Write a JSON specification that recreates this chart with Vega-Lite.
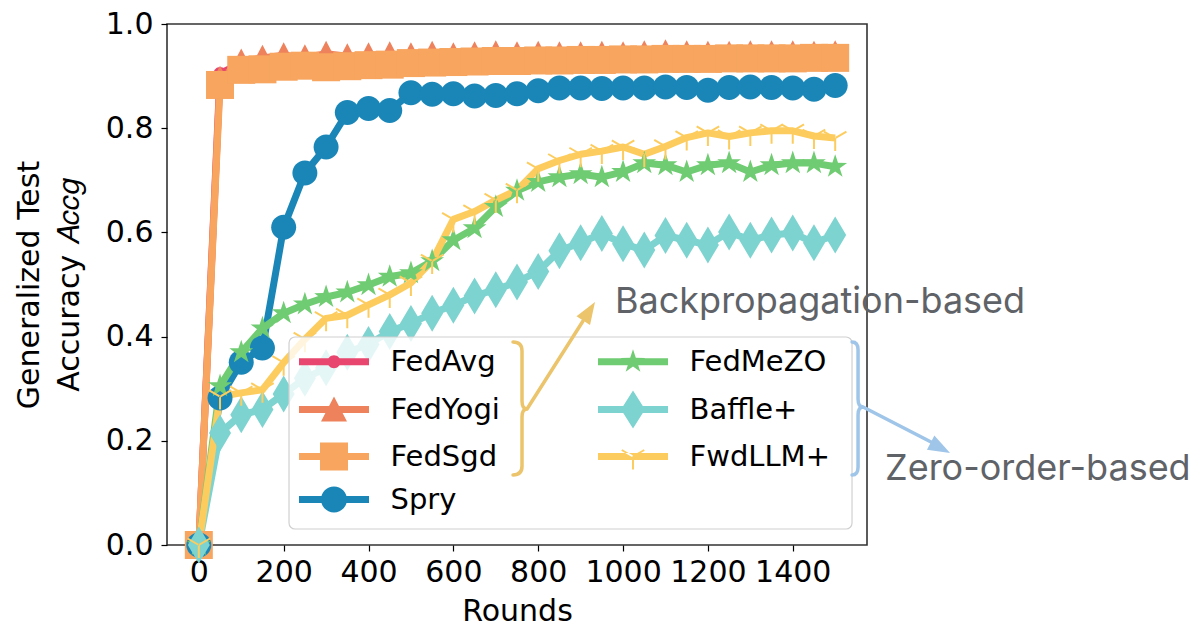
{
  "$schema": "https://vega.github.io/schema/vega-lite/v6.json",
  "width": 700,
  "height": 521,
  "autosize": "none",
  "padding": {"left": 167, "top": 24, "right": 334, "bottom": 81},
  "background": "white",
  "config": {
    "font": "DejaVu Sans",
    "view": {"stroke": "#333333", "strokeWidth": 1.6},
    "axis": {
      "labelFont": "DejaVu Sans", "labelFontSize": 30, "labelColor": "#000000",
      "titleFont": "DejaVu Sans", "titleFontSize": 30, "titleFontWeight": "normal", "titleColor": "#000000",
      "tickColor": "#000000", "tickSize": 6, "tickWidth": 1.2, "domain": false, "grid": false, "labelOverlap": false
    }
  },
  "resolve": {"scale": {"color": "independent", "shape": "independent"}},
  "data": {"values": [
    {"round":0,"method":"FedAvg","acc":0},{"round":50,"method":"FedAvg","acc":0.905},{"round":100,"method":"FedAvg","acc":0.925},{"round":150,"method":"FedAvg","acc":0.928},{"round":200,"method":"FedAvg","acc":0.93},{"round":250,"method":"FedAvg","acc":0.93},{"round":300,"method":"FedAvg","acc":0.928},{"round":350,"method":"FedAvg","acc":0.93},{"round":400,"method":"FedAvg","acc":0.932},{"round":450,"method":"FedAvg","acc":0.932},{"round":500,"method":"FedAvg","acc":0.933},{"round":550,"method":"FedAvg","acc":0.934},{"round":600,"method":"FedAvg","acc":0.934},{"round":650,"method":"FedAvg","acc":0.935},{"round":700,"method":"FedAvg","acc":0.935},{"round":750,"method":"FedAvg","acc":0.936},{"round":800,"method":"FedAvg","acc":0.936},{"round":850,"method":"FedAvg","acc":0.936},{"round":900,"method":"FedAvg","acc":0.937},{"round":950,"method":"FedAvg","acc":0.937},{"round":1000,"method":"FedAvg","acc":0.937},{"round":1050,"method":"FedAvg","acc":0.938},{"round":1100,"method":"FedAvg","acc":0.938},{"round":1150,"method":"FedAvg","acc":0.938},{"round":1200,"method":"FedAvg","acc":0.938},{"round":1250,"method":"FedAvg","acc":0.939},{"round":1300,"method":"FedAvg","acc":0.939},{"round":1350,"method":"FedAvg","acc":0.939},{"round":1400,"method":"FedAvg","acc":0.939},{"round":1450,"method":"FedAvg","acc":0.94},{"round":1500,"method":"FedAvg","acc":0.94},
    {"round":0,"method":"FedYogi","acc":0},{"round":50,"method":"FedYogi","acc":0.895},{"round":100,"method":"FedYogi","acc":0.928},{"round":150,"method":"FedYogi","acc":0.935},{"round":200,"method":"FedYogi","acc":0.94},{"round":250,"method":"FedYogi","acc":0.936},{"round":300,"method":"FedYogi","acc":0.943},{"round":350,"method":"FedYogi","acc":0.938},{"round":400,"method":"FedYogi","acc":0.94},{"round":450,"method":"FedYogi","acc":0.942},{"round":500,"method":"FedYogi","acc":0.94},{"round":550,"method":"FedYogi","acc":0.943},{"round":600,"method":"FedYogi","acc":0.94},{"round":650,"method":"FedYogi","acc":0.942},{"round":700,"method":"FedYogi","acc":0.944},{"round":750,"method":"FedYogi","acc":0.942},{"round":800,"method":"FedYogi","acc":0.943},{"round":850,"method":"FedYogi","acc":0.942},{"round":900,"method":"FedYogi","acc":0.942},{"round":950,"method":"FedYogi","acc":0.943},{"round":1000,"method":"FedYogi","acc":0.942},{"round":1050,"method":"FedYogi","acc":0.944},{"round":1100,"method":"FedYogi","acc":0.946},{"round":1150,"method":"FedYogi","acc":0.944},{"round":1200,"method":"FedYogi","acc":0.943},{"round":1250,"method":"FedYogi","acc":0.943},{"round":1300,"method":"FedYogi","acc":0.944},{"round":1350,"method":"FedYogi","acc":0.944},{"round":1400,"method":"FedYogi","acc":0.944},{"round":1450,"method":"FedYogi","acc":0.943},{"round":1500,"method":"FedYogi","acc":0.944},
    {"round":0,"method":"FedSgd","acc":0},{"round":50,"method":"FedSgd","acc":0.883},{"round":100,"method":"FedSgd","acc":0.912},{"round":150,"method":"FedSgd","acc":0.913},{"round":200,"method":"FedSgd","acc":0.918},{"round":250,"method":"FedSgd","acc":0.92},{"round":300,"method":"FedSgd","acc":0.917},{"round":350,"method":"FedSgd","acc":0.919},{"round":400,"method":"FedSgd","acc":0.921},{"round":450,"method":"FedSgd","acc":0.922},{"round":500,"method":"FedSgd","acc":0.925},{"round":550,"method":"FedSgd","acc":0.926},{"round":600,"method":"FedSgd","acc":0.927},{"round":650,"method":"FedSgd","acc":0.928},{"round":700,"method":"FedSgd","acc":0.929},{"round":750,"method":"FedSgd","acc":0.929},{"round":800,"method":"FedSgd","acc":0.93},{"round":850,"method":"FedSgd","acc":0.93},{"round":900,"method":"FedSgd","acc":0.931},{"round":950,"method":"FedSgd","acc":0.931},{"round":1000,"method":"FedSgd","acc":0.932},{"round":1050,"method":"FedSgd","acc":0.932},{"round":1100,"method":"FedSgd","acc":0.933},{"round":1150,"method":"FedSgd","acc":0.933},{"round":1200,"method":"FedSgd","acc":0.933},{"round":1250,"method":"FedSgd","acc":0.934},{"round":1300,"method":"FedSgd","acc":0.934},{"round":1350,"method":"FedSgd","acc":0.934},{"round":1400,"method":"FedSgd","acc":0.934},{"round":1450,"method":"FedSgd","acc":0.935},{"round":1500,"method":"FedSgd","acc":0.935},
    {"round":0,"method":"Spry","acc":0},{"round":50,"method":"Spry","acc":0.282},{"round":100,"method":"Spry","acc":0.351},{"round":150,"method":"Spry","acc":0.378},{"round":200,"method":"Spry","acc":0.61},{"round":250,"method":"Spry","acc":0.714},{"round":300,"method":"Spry","acc":0.764},{"round":350,"method":"Spry","acc":0.83},{"round":400,"method":"Spry","acc":0.838},{"round":450,"method":"Spry","acc":0.834},{"round":500,"method":"Spry","acc":0.868},{"round":550,"method":"Spry","acc":0.865},{"round":600,"method":"Spry","acc":0.866},{"round":650,"method":"Spry","acc":0.862},{"round":700,"method":"Spry","acc":0.863},{"round":750,"method":"Spry","acc":0.866},{"round":800,"method":"Spry","acc":0.872},{"round":850,"method":"Spry","acc":0.877},{"round":900,"method":"Spry","acc":0.877},{"round":950,"method":"Spry","acc":0.876},{"round":1000,"method":"Spry","acc":0.877},{"round":1050,"method":"Spry","acc":0.877},{"round":1100,"method":"Spry","acc":0.879},{"round":1150,"method":"Spry","acc":0.878},{"round":1200,"method":"Spry","acc":0.873},{"round":1250,"method":"Spry","acc":0.878},{"round":1300,"method":"Spry","acc":0.879},{"round":1350,"method":"Spry","acc":0.878},{"round":1400,"method":"Spry","acc":0.877},{"round":1450,"method":"Spry","acc":0.875},{"round":1500,"method":"Spry","acc":0.882},
    {"round":0,"method":"FedMeZO","acc":0},{"round":50,"method":"FedMeZO","acc":0.305},{"round":100,"method":"FedMeZO","acc":0.37},{"round":150,"method":"FedMeZO","acc":0.416},{"round":200,"method":"FedMeZO","acc":0.445},{"round":250,"method":"FedMeZO","acc":0.462},{"round":300,"method":"FedMeZO","acc":0.476},{"round":350,"method":"FedMeZO","acc":0.485},{"round":400,"method":"FedMeZO","acc":0.499},{"round":450,"method":"FedMeZO","acc":0.515},{"round":500,"method":"FedMeZO","acc":0.522},{"round":550,"method":"FedMeZO","acc":0.545},{"round":600,"method":"FedMeZO","acc":0.585},{"round":650,"method":"FedMeZO","acc":0.608},{"round":700,"method":"FedMeZO","acc":0.649},{"round":750,"method":"FedMeZO","acc":0.68},{"round":800,"method":"FedMeZO","acc":0.697},{"round":850,"method":"FedMeZO","acc":0.706},{"round":900,"method":"FedMeZO","acc":0.712},{"round":950,"method":"FedMeZO","acc":0.706},{"round":1000,"method":"FedMeZO","acc":0.716},{"round":1050,"method":"FedMeZO","acc":0.733},{"round":1100,"method":"FedMeZO","acc":0.729},{"round":1150,"method":"FedMeZO","acc":0.716},{"round":1200,"method":"FedMeZO","acc":0.729},{"round":1250,"method":"FedMeZO","acc":0.733},{"round":1300,"method":"FedMeZO","acc":0.716},{"round":1350,"method":"FedMeZO","acc":0.729},{"round":1400,"method":"FedMeZO","acc":0.733},{"round":1450,"method":"FedMeZO","acc":0.733},{"round":1500,"method":"FedMeZO","acc":0.726},
    {"round":0,"method":"Baffle+","acc":0},{"round":50,"method":"Baffle+","acc":0.215},{"round":100,"method":"Baffle+","acc":0.25},{"round":150,"method":"Baffle+","acc":0.26},{"round":200,"method":"Baffle+","acc":0.29},{"round":250,"method":"Baffle+","acc":0.32},{"round":300,"method":"Baffle+","acc":0.34},{"round":350,"method":"Baffle+","acc":0.37},{"round":400,"method":"Baffle+","acc":0.385},{"round":450,"method":"Baffle+","acc":0.41},{"round":500,"method":"Baffle+","acc":0.425},{"round":550,"method":"Baffle+","acc":0.445},{"round":600,"method":"Baffle+","acc":0.46},{"round":650,"method":"Baffle+","acc":0.478},{"round":700,"method":"Baffle+","acc":0.49},{"round":750,"method":"Baffle+","acc":0.505},{"round":800,"method":"Baffle+","acc":0.525},{"round":850,"method":"Baffle+","acc":0.565},{"round":900,"method":"Baffle+","acc":0.58},{"round":950,"method":"Baffle+","acc":0.598},{"round":1000,"method":"Baffle+","acc":0.578},{"round":1050,"method":"Baffle+","acc":0.566},{"round":1100,"method":"Baffle+","acc":0.594},{"round":1150,"method":"Baffle+","acc":0.585},{"round":1200,"method":"Baffle+","acc":0.576},{"round":1250,"method":"Baffle+","acc":0.601},{"round":1300,"method":"Baffle+","acc":0.585},{"round":1350,"method":"Baffle+","acc":0.595},{"round":1400,"method":"Baffle+","acc":0.599},{"round":1450,"method":"Baffle+","acc":0.58},{"round":1500,"method":"Baffle+","acc":0.595},
    {"round":0,"method":"FwdLLM+","acc":0},{"round":50,"method":"FwdLLM+","acc":0.285},{"round":100,"method":"FwdLLM+","acc":0.292},{"round":150,"method":"FwdLLM+","acc":0.298},{"round":200,"method":"FwdLLM+","acc":0.35},{"round":250,"method":"FwdLLM+","acc":0.395},{"round":300,"method":"FwdLLM+","acc":0.435},{"round":350,"method":"FwdLLM+","acc":0.441},{"round":400,"method":"FwdLLM+","acc":0.461},{"round":450,"method":"FwdLLM+","acc":0.48},{"round":500,"method":"FwdLLM+","acc":0.503},{"round":550,"method":"FwdLLM+","acc":0.545},{"round":600,"method":"FwdLLM+","acc":0.625},{"round":650,"method":"FwdLLM+","acc":0.64},{"round":700,"method":"FwdLLM+","acc":0.662},{"round":750,"method":"FwdLLM+","acc":0.681},{"round":800,"method":"FwdLLM+","acc":0.722},{"round":850,"method":"FwdLLM+","acc":0.738},{"round":900,"method":"FwdLLM+","acc":0.75},{"round":950,"method":"FwdLLM+","acc":0.756},{"round":1000,"method":"FwdLLM+","acc":0.764},{"round":1050,"method":"FwdLLM+","acc":0.75},{"round":1100,"method":"FwdLLM+","acc":0.765},{"round":1150,"method":"FwdLLM+","acc":0.782},{"round":1200,"method":"FwdLLM+","acc":0.791},{"round":1250,"method":"FwdLLM+","acc":0.784},{"round":1300,"method":"FwdLLM+","acc":0.791},{"round":1350,"method":"FwdLLM+","acc":0.795},{"round":1400,"method":"FwdLLM+","acc":0.795},{"round":1450,"method":"FwdLLM+","acc":0.785},{"round":1500,"method":"FwdLLM+","acc":0.781}
  ]},
  "layer": [
    {
      "mark": {"type": "point", "filled": true, "size": 4, "opacity": 0, "strokeWidth": 0},
      "encoding": {
        "x": {"field": "round", "type": "quantitative", "scale": {"domain": [-75, 1575], "nice": false, "zero": false},
          "axis": {"values": [0, 200, 400, 600, 800, 1000, 1200, 1400], "format": "d", "title": "Rounds", "labelPadding": 6, "titlePadding": 9}},
        "y": {"field": "acc", "type": "quantitative", "scale": {"domain": [0, 1], "nice": false},
          "axis": {"values": [0, 0.2, 0.4, 0.6, 0.8, 1.0], "format": ".1f", "title": ["Generalized Test", "Accuracy 𝐴𝑐𝑐𝑔"], "titleLineHeight": 40, "labelPadding": 8, "titlePadding": 21}},
        "color": {"field": "method", "type": "nominal",
          "scale": {"domain": ["FedAvg","FedYogi","FedSgd","Spry","FedMeZO","Baffle+","FwdLLM+"],
                    "range": ["#E8466E","#EE825C","#F7A55F","#1A86B8","#70CC72","#7DD3CF","#FDCC5E"]},
          "legend": {
            "orient": "none", "legendX": 122, "legendY": 313, "columns": 2, "title": null,
            "labelFont": "DejaVu Sans", "labelFontSize": 29, "labelColor": "#000000", "labelLimit": 400,
            "labelOffset": 42, "symbolOffset": 20.5, "rowPadding": 13, "columnPadding": 98,
            "padding": 10, "gridAlign": "each", "symbolSize": 4, "symbolStrokeWidth": 0, "symbolOpacity": 1
          }},
        "shape": {"field": "method", "type": "nominal",
          "scale": {"domain": ["FedAvg","FedYogi","FedSgd","Spry","FedMeZO","Baffle+","FwdLLM+"],
                    "range": [
                      "M-35,-3.5H35V3.5H-35Z M-6.5,0A6.5,6.5 0 1,1 6.5,0A6.5,6.5 0 1,1 -6.5,0Z",
                      "M-35,-3.5H35V3.5H-35Z M0,-13L13,12L-13,12Z",
                      "M-35,-3.5H35V3.5H-35Z M-14,-14H14V14H-14Z",
                      "M-35,-3.5H35V3.5H-35Z M-13,0A13,13 0 1,1 13,0A13,13 0 1,1 -13,0Z",
                      "M-35,-3.5H35V3.5H-35Z M0,-12.5L2.82,-3.88L11.89,-3.86L4.57,1.48L7.35,10.11L0,4.8L-7.35,10.11L-4.57,1.48L-11.89,-3.86L-2.82,-3.88Z",
                      "M-35,-3.5H35V3.5H-35Z M0,-19L12,0L0,19L-12,0Z",
                      "M-35,-3.5H35V3.5H-35Z M-1,0H1V13H-1Z M0.5,-0.87L-10.76,-7.37L-11.76,-5.63L-0.5,0.87Z M-0.5,-0.87L10.76,-7.37L11.76,-5.63L0.5,0.87Z"
                    ]},
          "legend": {
            "orient": "none", "legendX": 122, "legendY": 313, "columns": 2, "title": null,
            "labelFont": "DejaVu Sans", "labelFontSize": 29, "labelColor": "#000000", "labelLimit": 400,
            "labelOffset": 42, "symbolOffset": 20.5, "rowPadding": 13, "columnPadding": 98,
            "padding": 10, "gridAlign": "each", "symbolSize": 4, "symbolStrokeWidth": 0, "symbolOpacity": 1
          }}
      }
    },
    {
      "mark": {"type": "line", "strokeWidth": 7, "strokeJoin": "round", "opacity": 1},
      "encoding": {
        "x": {"field": "round", "type": "quantitative"},
        "y": {"field": "acc", "type": "quantitative"},
        "stroke": {"field": "method", "type": "nominal",
          "scale": {"domain": ["Spry","FedAvg","FedYogi","FedSgd","FedMeZO","Baffle+","FwdLLM+"],
                    "range": ["#1A86B8","#E8466E","#EE825C","#F7A55F","#70CC72","#7DD3CF","#FDCC5E"]},
          "legend": null}
      }
    },
    {
      "mark": {"type": "point", "filled": true, "size": 4, "opacity": 1, "strokeWidth": 0},
      "encoding": {
        "x": {"field": "round", "type": "quantitative"},
        "y": {"field": "acc", "type": "quantitative"},
        "color": {"field": "method", "type": "nominal",
          "scale": {"domain": ["FedAvg","FedYogi","FedSgd","Spry","FedMeZO","Baffle+","FwdLLM+"],
                    "range": ["#E8466E","#EE825C","#F7A55F","#1A86B8","#70CC72","#7DD3CF","#FDCC5E"]},
          "legend": null},
        "shape": {"field": "method", "type": "nominal",
          "scale": {"domain": ["FedAvg","FedYogi","FedSgd","Spry","FedMeZO","Baffle+","FwdLLM+"],
                    "range": [
                      "M-6.5,0A6.5,6.5 0 1,1 6.5,0A6.5,6.5 0 1,1 -6.5,0Z",
                      "M0,-13L13,12L-13,12Z",
                      "M-14,-14H14V14H-14Z",
                      "M-12.5,0A12.5,12.5 0 1,1 12.5,0A12.5,12.5 0 1,1 -12.5,0Z",
                      "M0,-12.5L2.82,-3.88L11.89,-3.86L4.57,1.48L7.35,10.11L0,4.8L-7.35,10.11L-4.57,1.48L-11.89,-3.86L-2.82,-3.88Z",
                      "M0,-18.5L11,0L0,18.5L-11,0Z",
                      "M-1,0H1V13H-1Z M0.5,-0.87L-10.76,-7.37L-11.76,-5.63L-0.5,0.87Z M-0.5,-0.87L10.76,-7.37L11.76,-5.63L0.5,0.87Z"
                    ]},
          "legend": null}
      }
    },
    {
      "data": {"values": [{"label": "box"}]},
      "mark": {"type": "rect", "fill": "#ffffff", "fillOpacity": 0.8, "stroke": "#d0d0d0", "strokeWidth": 1.2, "cornerRadius": 6},
      "encoding": {"x": {"datum": 212.6, "type": "quantitative"}, "x2": {"datum": 1539.7}, "y": {"datum": 0.3992, "type": "quantitative"}, "y2": {"datum": 0.0307}}
    },
    {
      "data": {"values": [{"label": "brace1"}]},
      "mark": {"type": "point", "shape": "M-14,-67Q-5,-67 -5,-58L-5,-8Q-5,0 0,0Q-5,0 -5,8L-5,57Q-5,66 -14,66M0,0L56,-88", "size": 4, "filled": false, "stroke": "#EBC46B", "strokeWidth": 3.5, "opacity": 1, "strokeCap": "round"},
      "encoding": {"x": {"datum": 773.6, "type": "quantitative"}, "y": {"datum": 0.261, "type": "quantitative"}}
    },
    {
      "data": {"values": [{"label": "head1"}]},
      "mark": {"type": "point", "shape": "M68,-107L63,-84L49.5,-92.7Z", "size": 4, "filled": true, "color": "#EBC46B", "opacity": 1, "strokeWidth": 0},
      "encoding": {"x": {"datum": 773.6, "type": "quantitative"}, "y": {"datum": 0.261, "type": "quantitative"}}
    },
    {
      "data": {"values": [{"label": "brace2"}]},
      "mark": {"type": "point", "shape": "M-11,-65Q-5,-65 -5,-57L-5,-8Q-5,0 0,0Q-5,0 -5,8L-5,60Q-5,68 -11,68M0,0L68,35", "size": 4, "filled": false, "stroke": "#9FC5E8", "strokeWidth": 3.5, "opacity": 1, "strokeCap": "round"},
      "encoding": {"x": {"datum": 1565.7, "type": "quantitative"}, "y": {"datum": 0.265, "type": "quantitative"}}
    },
    {
      "data": {"values": [{"label": "head2"}]},
      "mark": {"type": "point", "shape": "M87,46L63.9,42.8L71.3,28.6Z", "size": 4, "filled": true, "color": "#9FC5E8", "opacity": 1, "strokeWidth": 0},
      "encoding": {"x": {"datum": 1565.7, "type": "quantitative"}, "y": {"datum": 0.265, "type": "quantitative"}}
    },
    {
      "data": {"values": [{"label": "Backpropagation-based"}]},
      "mark": {"type": "text", "font": "Inter", "fontSize": 36, "color": "#5F6368", "align": "left", "baseline": "alphabetic"},
      "encoding": {"x": {"datum": 981, "type": "quantitative"}, "y": {"datum": 0.4453, "type": "quantitative"}, "text": {"field": "label"}}
    },
    {
      "data": {"values": [{"label": "Zero-order-based"}]},
      "mark": {"type": "text", "font": "Inter", "fontSize": 36, "color": "#5F6368", "align": "left", "baseline": "alphabetic"},
      "encoding": {"x": {"datum": 1617.5, "type": "quantitative"}, "y": {"datum": 0.1248, "type": "quantitative"}, "text": {"field": "label"}}
    }
  ]
}
